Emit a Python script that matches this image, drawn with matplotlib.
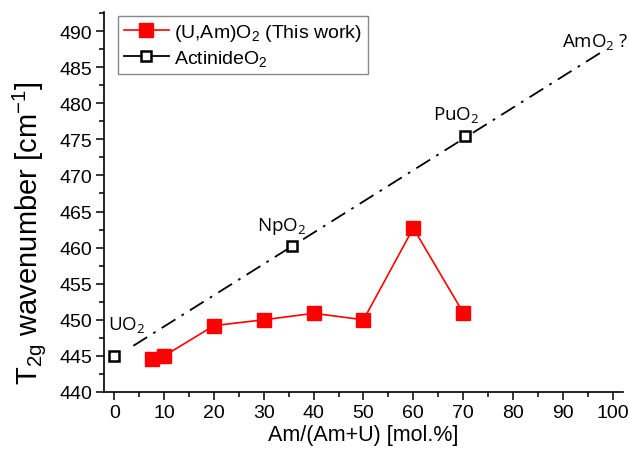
import matplotlib
matplotlib.use("Agg")
import matplotlib.pyplot as plt
from matplotlib.lines import Line2D
from matplotlib.ticker import MultipleLocator

plt.rcParams['font.family'] = ['Liberation Sans', 'DejaVu Sans']
plt.rcParams['mathtext.default'] = 'regular'

# (U,Am)O2, this work
am_frac = [7.5, 10, 20, 30, 40, 50, 60, 70]
t2g_uam = [444.5, 445.0, 449.2, 450.0, 450.9, 450.0, 462.7, 451.0]

# pure actinide dioxides
act_x = [0, 35.6, 70.3]
act_y = [445.0, 460.2, 475.5]
act_names = ['UO$_2$', 'NpO$_2$', 'PuO$_2$']

# linear trend drawn through the actinides
trend_x = [3.8, 98.5]
trend_y = [446.4, 487.4]

fig = plt.figure(figsize=(6.29, 4.56), dpi=100)
ax = fig.add_axes([0.1653, 0.1382, 0.8252, 0.8326])

ax.plot(trend_x, trend_y, color='black', lw=1.3, dashes=[9, 4, 1.5, 4])
ax.plot(act_x, act_y, ls='none', marker='s', ms=7.5, mfc='white',
        mec='black', mew=1.8, zorder=3)
ax.plot(am_frac, t2g_uam, color='red', lw=1.2, marker='s', ms=9.5,
        mfc='red', mec='red', zorder=4)

# labels next to the markers
lab_font = dict(family='Open Sans', fontsize=13.5, va='baseline')
ax.text(-1.2, 448.7, act_names[0], **lab_font)
ax.text(28.6, 462.4, act_names[1], **lab_font)
ax.text(63.9, 477.8, act_names[2], **lab_font)
ax.text(89.8, 488.0, 'AmO$_2$ ?', clip_on=False, **lab_font)

ax.set_xlim(-2.1, 102.1)
ax.set_ylim(440, 492.6)
ax.xaxis.set_major_locator(MultipleLocator(10))
ax.xaxis.set_minor_locator(MultipleLocator(5))
ax.yaxis.set_major_locator(MultipleLocator(5))
ax.yaxis.set_minor_locator(MultipleLocator(2.5))
ax.tick_params(which='major', direction='out', length=6, width=1.1, labelsize=14, pad=2.5)
ax.tick_params(which='minor', direction='out', length=3.5, width=1.1)
for s in ['top', 'right']:
    ax.spines[s].set_visible(False)
for s in ['left', 'bottom']:
    ax.spines[s].set_linewidth(1.2)

ax.set_xlabel('Am/(Am+U) [mol.%]', fontsize=15.5, labelpad=2)
ax.set_ylabel('T$_{2g}$ wavenumber [cm$^{-1}$]', fontsize=21, labelpad=5)
ax.yaxis.set_label_coords(-0.108, 0.42)

handles = [
    Line2D([], [], color='red', lw=1.2, marker='s', ms=9.5, mfc='red', mec='red'),
    Line2D([], [], color='black', lw=1.3, marker='s', ms=7.5, mfc='white', mec='black', mew=1.8),
]
leg = ax.legend(handles, ['(U,Am)O$_2$ (This work)', 'ActinideO$_2$'],
                loc='upper left', bbox_to_anchor=(0.027, 0.99), borderaxespad=0,
                fontsize=14, fancybox=False, framealpha=1, edgecolor='#888888',
                handlelength=2.3, handletextpad=0.3, borderpad=0.3, labelspacing=0.25)
leg.get_frame().set_linewidth(1.0)

fig.savefig('out.png', dpi=100)
